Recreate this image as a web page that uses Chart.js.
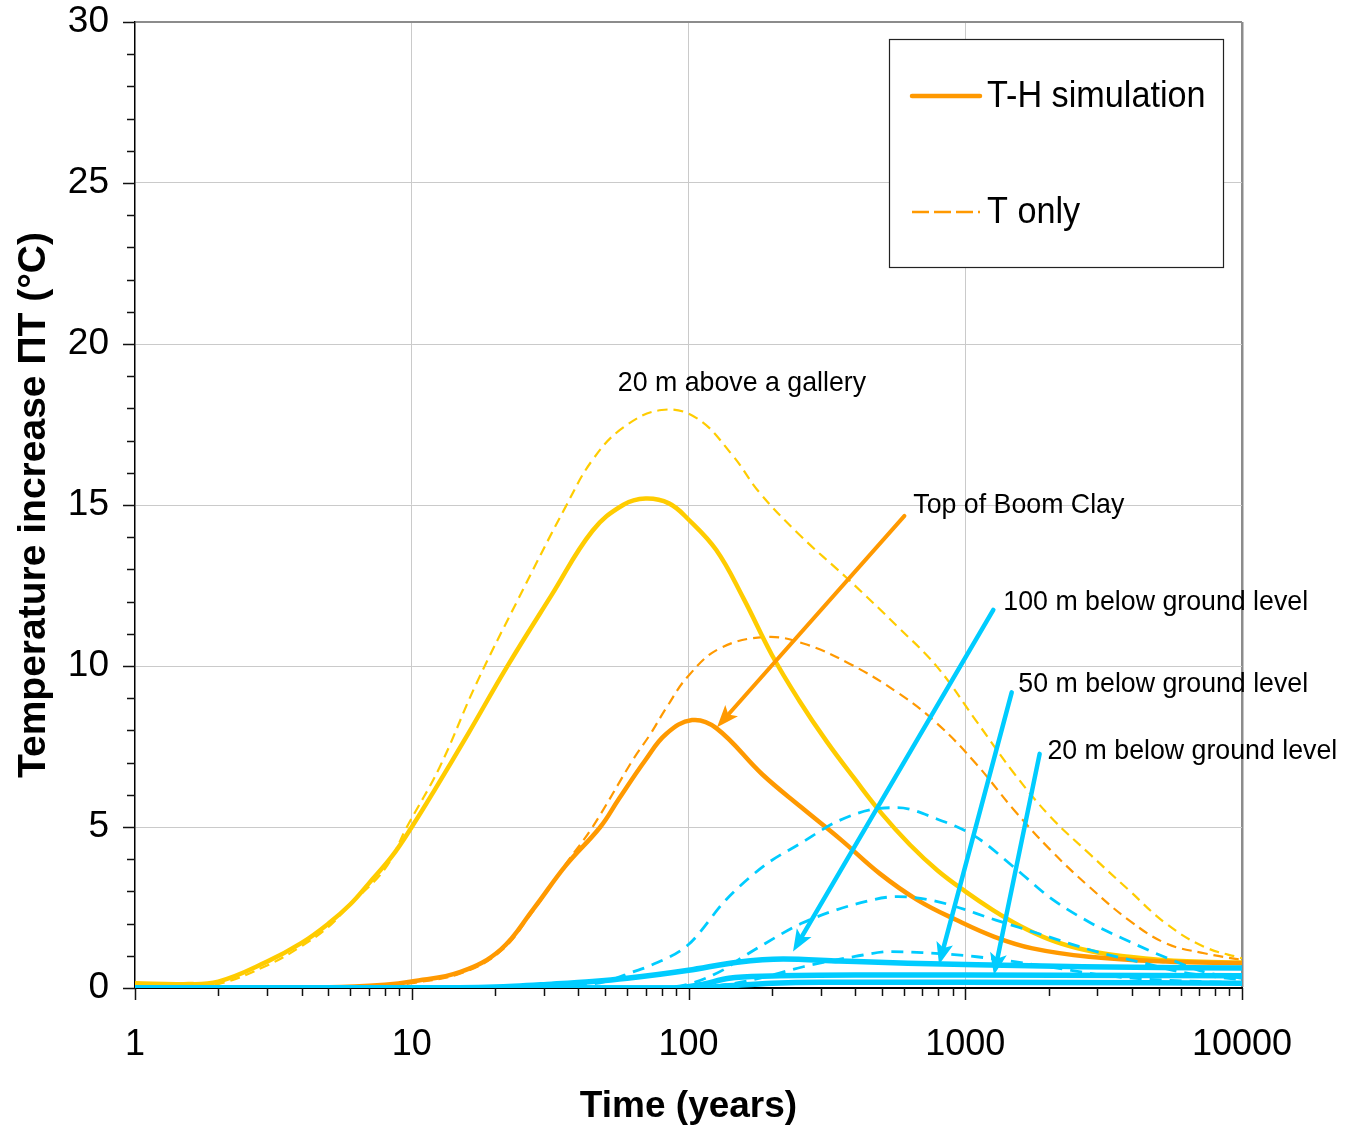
<!DOCTYPE html>
<html lang="en">
<head>
<meta charset="UTF-8">
<title>Temperature increase</title>
<script src="https://cdnjs.cloudflare.com/ajax/libs/Chart.js/4.4.1/chart.umd.min.js"></script>
<style>
  html, body { margin: 0; padding: 0; background: #fff; }
  .wrap { width: 1345px; height: 1130px; position: relative; }
</style>
</head>
<body>
<div class="wrap"><canvas id="chart"></canvas></div>
<script>
// values: time in years, temperature increase in °C
const aboveThTime = [1, 1.5, 2, 3, 4, 5, 6, 7, 8.5, 10, 12, 16, 22, 32, 45, 58, 70, 85, 100, 126, 158, 200, 251, 316, 398, 501, 631, 794, 1000, 1259, 1585, 2000, 2512, 3162, 3981, 5012, 6310, 10000];
const aboveTh = [0.15, 0.12, 0.2, 0.82, 1.4, 2.0, 2.6, 3.25, 4.1, 5.0, 6.1, 7.9, 9.95, 12.2, 14.2, 15.0, 15.2, 15.05, 14.55, 13.6, 12.1, 10.35, 8.93, 7.65, 6.5, 5.4, 4.45, 3.65, 3.0, 2.42, 1.92, 1.52, 1.25, 1.07, 0.96, 0.88, 0.83, 0.79];

const aboveTTime = [1, 1.5, 2, 3, 4, 5, 6, 8, 9.6, 12.6, 17, 24, 36, 45, 58, 80, 107, 144, 180, 250, 380, 570, 790, 1090, 1500, 2030, 2800, 3900, 5300, 7300, 10000];
const aboveT = [0.02, 0.03, 0.12, 0.7, 1.3, 1.9, 2.6, 3.7, 5.0, 6.85, 9.4, 12.0, 14.95, 16.4, 17.4, 17.95, 17.7, 16.55, 15.4, 14.1, 12.67, 11.22, 9.98, 8.32, 6.67, 5.32, 4.18, 3.04, 2.01, 1.28, 0.92];

const clayThTime = [1, 5, 8, 10, 15, 21, 27.5, 36, 48, 56, 70, 83, 103, 126, 185, 255, 356, 490, 673, 930, 1275, 1750, 2800, 5300, 10000];
const clayTh = [0, 0.02, 0.1, 0.2, 0.5, 1.2, 2.45, 3.8, 5.0, 5.87, 7.09, 7.89, 8.32, 8.07, 6.63, 5.62, 4.6, 3.56, 2.73, 2.11, 1.59, 1.23, 0.97, 0.82, 0.77];

const clayTTime = [1, 5, 8, 10, 15, 21, 27.5, 36, 45, 63, 73, 83, 100, 130, 190, 260, 380, 575, 790, 1090, 1500, 2030, 2800, 3900, 5300, 7300, 10000];
const clayT = [0, 0, 0.05, 0.15, 0.45, 1.15, 2.4, 3.85, 5.0, 7.09, 7.9, 8.69, 9.7, 10.55, 10.9, 10.7, 10.08, 9.15, 8.22, 6.98, 5.53, 4.29, 3.15, 2.11, 1.39, 1.08, 0.87];

const deep100TTime = [1, 30, 50, 63, 73, 100, 137, 190, 255, 350, 490, 570, 790, 1090, 1500, 2030, 2800, 3900, 5650, 7300, 10000];
const deep100T = [0, 0, 0.2, 0.5, 0.7, 1.35, 2.75, 3.83, 4.5, 5.2, 5.58, 5.6, 5.25, 4.7, 3.75, 2.8, 2.05, 1.45, 0.85, 0.5, 0.3];

const deep50TTime = [1, 70, 100, 136, 150, 190, 255, 420, 570, 780, 1290, 1950, 3000, 4300, 6000, 10000];
const deep50T = [0, 0, 0.12, 0.6, 0.85, 1.39, 2.0, 2.65, 2.84, 2.7, 2.11, 1.62, 1.12, 0.8, 0.5, 0.25];

const deep20TTime = [1, 100, 130, 170, 260, 400, 540, 700, 1100, 2000, 3500, 10000];
const deep20T = [0, 0, 0.08, 0.25, 0.66, 0.98, 1.13, 1.1, 0.97, 0.66, 0.35, 0.15];

const deep100ThTime = [1, 10, 20, 32, 45, 60, 100, 150, 220, 350, 620, 1100, 2650, 10000];
const deep100Th = [0, 0, 0.03, 0.12, 0.2, 0.3, 0.55, 0.8, 0.9, 0.84, 0.77, 0.72, 0.66, 0.62];

const deep50ThTime = [1, 90, 110, 140, 200, 400, 1000, 10000];
const deep50Th = [0, 0, 0.1, 0.3, 0.37, 0.4, 0.4, 0.38];

const deep20ThTime = [1, 100, 130, 200, 300, 1000, 10000];
const deep20Th = [0, 0, 0.05, 0.15, 0.18, 0.18, 0.15];

const decades = [1, 10, 100, 1000, 10000];
const xTickValues = [];
decades.slice(0, -1).forEach(d => { for (let k = 1; k < 10; k++) xTickValues.push(d * k); });
xTickValues.push(10000);

const legendLabels = ['T-H simulation', 'T only'];

// annotation texts, anchored in (years, °C)
const noteLabels = ['20 m above a gallery', 'Top of Boom Clay', '100 m below ground level', '50 m below ground level', '20 m below ground level'];
const noteAt = [[156, 18.79], [649, 15.0], [1373, 11.99], [1555, 9.44], [1981, 7.35]];
const noteAlign = ['center', 'left', 'left', 'left', 'left'];
const arrowFrom = [null, [603, 14.66], [1263, 11.74], [1472, 9.18], [1857, 7.27]];
const arrowTo = [null, [126.8, 8.1], [238.6, 1.13], [804, 0.73], [1270, 0.4]];

const YELLOW = '#ffcc00', ORANGE = '#ff9900', BLUE = '#00ccff';
const FONT = "'Liberation Sans', Arial, sans-serif";

const pts = (ts, vs) => ts.map((t, i) => ({ x: t, y: vs[i] }));
const solid = (label, ts, vs, color, w, smooth) => ({
  label, data: pts(ts, vs), borderColor: color, borderWidth: w,
  pointRadius: 0, fill: false,
  tension: smooth ? 0.4 : 0,
  cubicInterpolationMode: smooth ? 'default' : 'monotone'
});
const dashed = (label, ts, vs, color, w, dash, smooth) => ({
  ...solid(label, ts, vs, color, w, smooth), borderDash: dash
});

function condensedText(ctx, text, x, y, align, sx) {
  ctx.save();
  ctx.translate(x, y);
  ctx.scale(sx, 1);
  ctx.textAlign = align;
  ctx.textBaseline = 'middle';
  ctx.fillText(text, 0, 0);
  ctx.restore();
}

function drawArrow(ctx, x0, y0, x1, y1, color, w) {
  const ang = Math.atan2(y1 - y0, x1 - x0);
  const head = 22, half = 8.5;
  const bx = x1 - head * Math.cos(ang), by = y1 - head * Math.sin(ang);
  ctx.strokeStyle = color;
  ctx.fillStyle = color;
  ctx.lineWidth = w;
  ctx.lineCap = 'round';
  ctx.beginPath();
  ctx.moveTo(x0, y0);
  ctx.lineTo(bx + 4 * Math.cos(ang), by + 4 * Math.sin(ang));
  ctx.stroke();
  ctx.beginPath();
  ctx.moveTo(x1, y1);
  ctx.lineTo(bx + half * Math.sin(ang), by - half * Math.cos(ang));
  ctx.lineTo(bx + 5 * Math.cos(ang), by + 5 * Math.sin(ang));
  ctx.lineTo(bx - half * Math.sin(ang), by + half * Math.cos(ang));
  ctx.closePath();
  ctx.fill();
}

// minor / major tick marks on both axes
const tickMarks = {
  id: 'tickMarks',
  afterDraw(chart) {
    const { ctx, chartArea, scales: { x, y } } = chart;
    ctx.save();
    ctx.strokeStyle = '#111';
    ctx.lineWidth = 1.5;
    ctx.beginPath();
    x.ticks.forEach(t => {
      const px = Math.round(x.getPixelForValue(t.value)) + 0.5;
      const len = decades.includes(t.value) ? 12 : 8;
      ctx.moveTo(px, chartArea.bottom);
      ctx.lineTo(px, chartArea.bottom + len);
    });
    y.ticks.forEach(t => {
      const py = Math.round(y.getPixelForValue(t.value)) + 0.5;
      const len = t.value % 5 === 0 ? 12 : 8;
      ctx.moveTo(chartArea.left, py);
      ctx.lineTo(chartArea.left - len, py);
    });
    ctx.stroke();
    ctx.restore();
  }
};

const notes = {
  id: 'notes',
  afterDatasetsDraw(chart) {
    const { ctx, scales: { x, y } } = chart;
    ctx.save();
    noteLabels.forEach((txt, i) => {
      if (arrowFrom[i]) {
        drawArrow(ctx,
          x.getPixelForValue(arrowFrom[i][0]), y.getPixelForValue(arrowFrom[i][1]),
          x.getPixelForValue(arrowTo[i][0]), y.getPixelForValue(arrowTo[i][1]),
          i === 1 ? ORANGE : BLUE, i === 1 ? 4 : 4.5);
      }
      ctx.fillStyle = '#000';
      ctx.font = `28px ${FONT}`;
      condensedText(ctx, txt, x.getPixelForValue(noteAt[i][0]), y.getPixelForValue(noteAt[i][1]), noteAlign[i], 0.955);
    });
    ctx.restore();
  }
};

const legendBox = {
  id: 'legendBox',
  afterDraw(chart) {
    const { ctx, chartArea } = chart;
    const left = chartArea.right - 353, top = chartArea.top + 17, w = 334, h = 228;
    ctx.save();
    ctx.fillStyle = '#fff';
    ctx.fillRect(left, top, w, h);
    ctx.strokeStyle = '#222';
    ctx.lineWidth = 1.2;
    ctx.strokeRect(left + 0.5, top + 0.5, w, h);
    const rows = [top + 57, top + 173];
    legendLabels.forEach((txt, i) => {
      ctx.strokeStyle = ORANGE;
      ctx.lineWidth = i === 0 ? 4.5 : 2.5;
      ctx.lineCap = i === 0 ? 'round' : 'butt';
      ctx.setLineDash(i === 0 ? [] : [17, 5]);
      ctx.beginPath();
      ctx.moveTo(left + 23, rows[i]);
      ctx.lineTo(left + 91, rows[i]);
      ctx.stroke();
      ctx.setLineDash([]);
      ctx.fillStyle = '#000';
      ctx.font = `36px ${FONT}`;
      condensedText(ctx, txt, left + 98, rows[i] + 1, 'left', 0.95);
    });
    ctx.restore();
  }
};

new Chart(document.getElementById('chart'), {
  type: 'line',
  data: {
    datasets: [
      solid('100 m below ground level T-H', deep100ThTime, deep100Th, BLUE, 5.5, false),
      solid('50 m below ground level T-H', deep50ThTime, deep50Th, BLUE, 5.5, false),
      solid('20 m below ground level T-H', deep20ThTime, deep20Th, BLUE, 5.5, false),
      dashed('100 m below ground level T', deep100TTime, deep100T, BLUE, 2.8, [12, 8], false),
      dashed('50 m below ground level T', deep50TTime, deep50T, BLUE, 2.8, [12, 8], false),
      dashed('20 m below ground level T', deep20TTime, deep20T, BLUE, 2.8, [12, 8], false),
      solid('Top of Boom Clay T-H', clayThTime, clayTh, ORANGE, 4.5, true),
      solid('20 m above a gallery T-H', aboveThTime, aboveTh, YELLOW, 4.5, true),
      dashed('Top of Boom Clay T', clayTTime, clayT, ORANGE, 2.2, [10, 6], true),
      dashed('20 m above a gallery T', aboveTTime, aboveT, YELLOW, 2.2, [10, 6], true)
    ]
  },
  options: {
    responsive: true,
    maintainAspectRatio: false,
    animation: false,
    layout: { padding: { top: 22, right: 103, left: 0, bottom: 0 } },
    plugins: { legend: { display: false }, tooltip: { enabled: false } },
    scales: {
      x: {
        type: 'logarithmic',
        min: 1,
        max: 10000,
        afterBuildTicks: scale => { scale.ticks = xTickValues.map(v => ({ value: v })); },
        afterFit: scale => {
          scale.height = 142;
          scale.paddingLeft = 0;
          scale.paddingRight = 0;
        },
        ticks: {
          autoSkip: false,
          maxRotation: 0,
          padding: 35,
          color: '#000',
          font: { family: FONT, size: 36 },
          callback: v => decades.includes(v) ? String(v) : ''
        },
        grid: {
          drawTicks: false,
          color: c => {
            const v = c.tick && c.tick.value;
            if (v === 10000) return '#8c8c8c';
            return decades.includes(v) && v !== 1 ? '#cacaca' : 'rgba(0,0,0,0)';
          },
          lineWidth: c => (c.tick && c.tick.value === 10000) ? 2.5 : 1
        },
        border: { color: '#000', width: 2 },
        title: {
          display: true,
          text: 'Time (years)',
          color: '#000',
          font: { family: FONT, size: 37, weight: 'bold' },
          padding: { top: 0, bottom: 1 }
        }
      },
      y: {
        min: 0,
        max: 30,
        afterFit: scale => {
          scale.width = 135;
          scale.paddingTop = 0;
          scale.paddingBottom = 0;
        },
        ticks: {
          stepSize: 1,
          autoSkip: false,
          padding: 26,
          color: '#000',
          font: { family: FONT, size: 37 },
          callback: v => v % 5 === 0 ? v : ''
        },
        grid: {
          drawTicks: false,
          color: c => {
            const v = c.tick && c.tick.value;
            if (v === 30) return '#8c8c8c';
            return v % 5 === 0 && v !== 0 ? '#cacaca' : 'rgba(0,0,0,0)';
          },
          lineWidth: c => (c.tick && c.tick.value === 30) ? 2 : 1
        },
        border: { color: '#000', width: 1.5 },
        title: {
          display: true,
          text: 'Temperature increase ΠT (°C)',
          color: '#000',
          font: { family: FONT, size: 39, weight: 'bold' },
          padding: { top: 11, bottom: 0 }
        }
      }
    }
  },
  plugins: [tickMarks, notes, legendBox]
});
</script>
</body>
</html>
